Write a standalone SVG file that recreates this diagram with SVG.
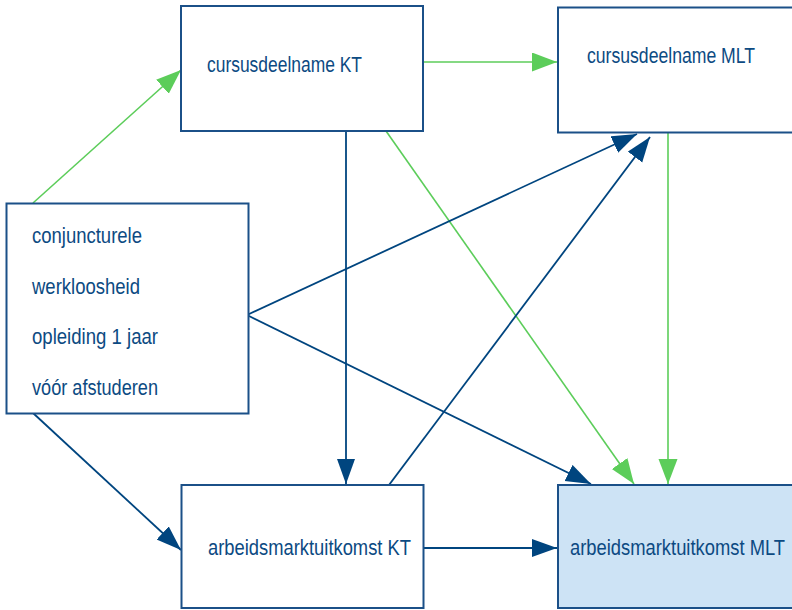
<svg xmlns="http://www.w3.org/2000/svg" width="792" height="610" viewBox="0 0 792 610">
<style>
.box{fill:#ffffff;stroke:#1b5088;stroke-width:2}
.edge{fill:none;stroke:#1b5088;stroke-width:2}
.hl{fill:#cde3f5}
.t{font-family:"Liberation Sans",Arial,sans-serif;font-size:22px;fill:#0c4a82}
.g{stroke:#5ccd5a;stroke-width:1.6;fill:none}
.b{stroke:#00457f;stroke-width:1.8;fill:none}
</style>
<defs>
<marker id="ag" markerUnits="userSpaceOnUse" markerWidth="26" markerHeight="20" refX="25" refY="9.5" orient="auto"><path d="M0,0 L25,9.5 L0,19 z" fill="#5ccd5a"/></marker>
<marker id="ab" markerUnits="userSpaceOnUse" markerWidth="26" markerHeight="20" refX="25" refY="9" orient="auto"><path d="M0,0 L25,9 L0,18 z" fill="#00457f"/></marker>
</defs>
<rect width="792" height="610" fill="#ffffff"/>
<g id="connectors">
<line class="g" x1="33" y1="203" x2="181" y2="70" marker-end="url(#ag)"/>
<line class="g" x1="423" y1="62" x2="557" y2="62" marker-end="url(#ag)"/>
<line class="g" x1="386" y1="131" x2="634" y2="484" marker-end="url(#ag)"/>
<line class="g" x1="668" y1="133" x2="668" y2="484" marker-end="url(#ag)"/>
<line class="b" x1="346" y1="131" x2="346" y2="484" marker-end="url(#ab)"/>
<line class="b" x1="247" y1="315" x2="637" y2="134" marker-end="url(#ab)"/>
<line class="b" x1="247" y1="315" x2="591" y2="484" marker-end="url(#ab)"/>
<line class="b" x1="389" y1="485" x2="650" y2="137" marker-end="url(#ab)"/>
<line class="b" x1="33" y1="413" x2="181" y2="550" marker-end="url(#ab)"/>
<line class="b" x1="423" y1="548" x2="557" y2="548" marker-end="url(#ab)"/>
</g>
<g id="cursus-kt">
<rect class="box" x="181" y="6" width="242" height="125"/>
<text class="t" x="207" y="72" textLength="155" lengthAdjust="spacingAndGlyphs">cursusdeelname KT</text>
</g>
<g id="cursus-mlt">
<rect x="558" y="7.5" width="234" height="125" fill="#ffffff"/>
<path class="edge" d="M792,7.5 H558 V132.5 H792"/>
<text class="t" x="587" y="63" textLength="168" lengthAdjust="spacingAndGlyphs">cursusdeelname MLT</text>
</g>
<g id="conjunctuur">
<rect class="box" x="6.5" y="203.5" width="242" height="210"/>
<text class="t" x="32" y="243" textLength="110" lengthAdjust="spacingAndGlyphs">conjuncturele</text>
<text class="t" x="32" y="293.5" textLength="108" lengthAdjust="spacingAndGlyphs">werkloosheid</text>
<text class="t" x="32" y="344" textLength="126" lengthAdjust="spacingAndGlyphs">opleiding 1 jaar</text>
<text class="t" x="32" y="394.5" textLength="126" lengthAdjust="spacingAndGlyphs">vóór afstuderen</text>
</g>
<g id="arbeid-kt">
<rect class="box" x="181.5" y="485" width="242" height="123"/>
<text class="t" x="208" y="555" textLength="203" lengthAdjust="spacingAndGlyphs">arbeidsmarktuitkomst KT</text>
</g>
<g id="arbeid-mlt">
<rect class="hl" x="558" y="485" width="234" height="123"/>
<path class="edge" d="M792,485 H558 V608 H792"/>
<text class="t" x="570" y="555" textLength="215" lengthAdjust="spacingAndGlyphs">arbeidsmarktuitkomst MLT</text>
</g>
</svg>
